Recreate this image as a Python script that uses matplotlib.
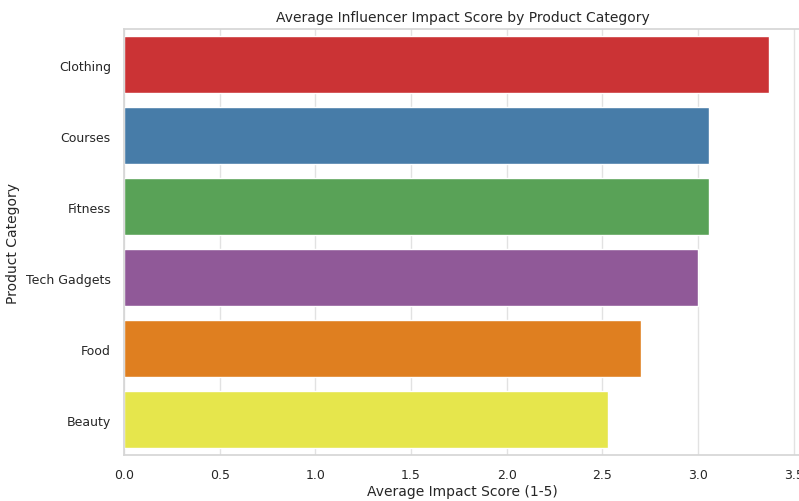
import matplotlib
matplotlib.use("Agg")
import matplotlib.pyplot as plt
import seaborn as sns
import pandas as pd

categories = ["Clothing", "Courses", "Fitness", "Tech Gadgets", "Food", "Beauty"]
scores = [3.37, 3.06, 3.06, 3.00, 2.70, 2.53]

sns.set_theme(style="whitegrid", rc={"grid.color": "#e2e2e2", "axes.edgecolor": "#d6d6d6"})
df = pd.DataFrame({"category": categories, "score": scores})

fig = plt.figure(figsize=(7.99, 5.02), dpi=100)
# the right side of the axes runs just past the figure edge, as in the source
ax = fig.add_axes([0.1552, 0.091, 0.8473, 0.8486])
sns.barplot(data=df, x="score", y="category", hue="category",
            palette="Set1", legend=False, ax=ax)

ax.set_title("Average Influencer Impact Score by Product Category", fontsize=10)
ax.set_xlabel("Average Impact Score (1-5)", fontsize=10, labelpad=2)
ax.set_ylabel("Product Category", fontsize=10)
ax.tick_params(labelsize=9)
ax.tick_params(axis="x", pad=3)

fig.savefig("out.png", dpi=100)
